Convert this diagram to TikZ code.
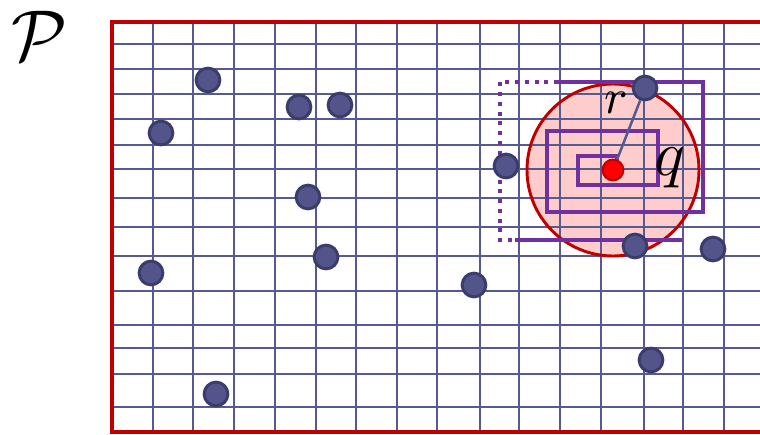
\documentclass[tikz,border=0pt]{standalone}
\usepackage{amsmath}
\usepackage[dvipsnames,svgnames,x11names]{xcolor}
\definecolor{gridblue}{HTML}{565A90}
\definecolor{framered}{HTML}{C00000}
\definecolor{dotfill}{HTML}{52548A}
\definecolor{dotline}{HTML}{3A3C6C}
\definecolor{pinkfill}{HTML}{FFCCCC}
\definecolor{spiralpurple}{HTML}{7030A0}
\definecolor{qred}{HTML}{FF0000}
\usepackage{tikz}
\usetikzlibrary{calc,positioning}

\begin{document}
\begin{tikzpicture}[
  x=0.75pt,y=-0.75pt,
  gridln/.style={gridblue,line width=1.8pt},
  frameln/.style={framered,line width=3pt},
  pnt/.style={circle,draw=dotline,fill=dotfill,line width=2.2pt,
              minimum size=17.8pt,inner sep=0pt},
  qpnt/.style={circle,draw=framered,fill=qred,line width=1.6pt,
               minimum size=15.5pt,inner sep=0pt},
  spiralln/.style={spiralpurple,line width=2.6pt},
  rln/.style={gridblue,line width=1.9pt},
  lbl/.style={inner sep=0pt}
]
  \useasboundingbox (0,0) rectangle (760,435);
  \coordinate (qc) at (613,170);
  \fill[pinkfill] (qc) circle[radius=86];
  \foreach \x in {153,193,234,275,316,356,397,437,480,519,560,601,644,683,724}
    \draw[gridln] (\x,22) -- (\x,432);
  \foreach \y in {44,69,94,119,145,169,198,227,256,291,325,348,374,407}
    \draw[gridln] (112,\y) -- (760,\y);
  \draw[framered,line width=2.2pt] (qc) circle[radius=86];
  \draw[frameln] (762,22) -- (112,22) -- (112,432) -- (762,432);

  \draw[spiralln] (617,167) -- (617,156) -- (578,156) -- (578,185) -- (658,185)
    -- (658,131) -- (547,131) -- (547,212) -- (703,212) -- (703,82) -- (558,82);
  \draw[spiralln,dash pattern=on 3pt off 4.3pt] (558,82) -- (500,82) -- (500,240) -- (515,240);
  \draw[spiralln] (515,240) -- (682,240);

  \foreach \i/\x/\y in {1/208/80,2/161/133,3/299/107,4/340/105,5/308/197,
                        6/151/273,7/326/257,8/216/394,9/474/285,10/506/166,
                        11/645/88,12/635/246,13/713/249,14/651/360}
    \node[pnt] (p\i) at (\x,\y) {};
  \node[qpnt] (q) at (qc) {};
  \draw[rln] (q) -- (p11);

  \node[lbl,scale=5.4] (lblP) at (40,36) {$\mathcal{P}$};
  \node[lbl,scale=3.7] (lblr) at (616,103) {$r$};
  \node[lbl,scale=4.8] (lblq) at (670,168) {$q$};
\end{tikzpicture}
\end{document}
